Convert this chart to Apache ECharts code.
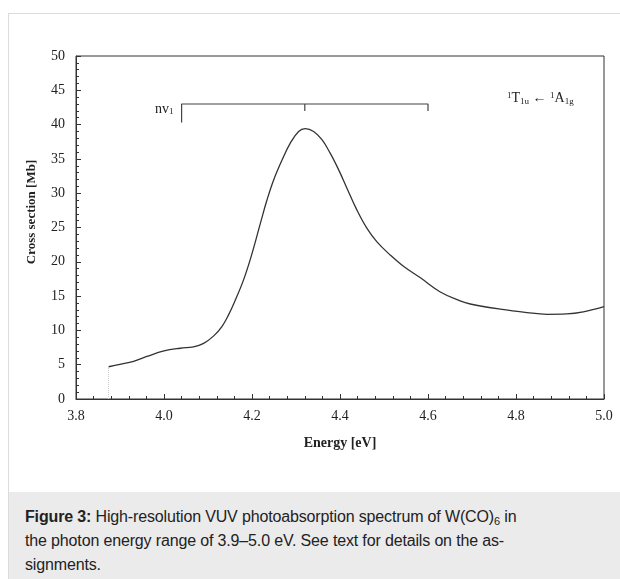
<!DOCTYPE html>
<html>
<head>
    <meta charset="utf-8">
    <script src="https://cdn.jsdelivr.net/npm/echarts@6/dist/echarts.min.js"></script>
    <style>
        body { margin: 0; background: #fff; }
        #frame { position: absolute; left: 8px; top: 13px; width: 640px; height: 600px; border: 1px solid #dcdcdc; }
        #chart { position: absolute; left: 0; top: 0; width: 620px; height: 579px; }
        #caption {
            position: absolute; left: 9px; top: 492px; width: 611px; height: 87px;
            background: #ebebeb; box-sizing: border-box; padding: 13px 0 0 16px;
            font-family: "Liberation Sans", Arial, sans-serif; font-size: 16px; line-height: 24px; color: #222;
            letter-spacing: -0.15px; white-space: nowrap;
        }
        #caption sub { font-size: 11px; line-height: 0; vertical-align: -3px; }
    </style>
</head>
<body>
    <div id="frame"></div>
    <div id="chart"></div>
    <div id="caption"><b>Figure 3:</b> High-resolution VUV photoabsorption spectrum of W(CO)<sub>6</sub> in<br>the photon energy range of 3.9–5.0 eV. See text for details on the as-<br>signments.</div>
    <script type="text/javascript">
        // spectrum: energy [eV] / cross section [Mb]
        var energy = [3.874, 3.900, 3.931, 3.961, 4.000, 4.037, 4.067, 4.090, 4.113, 4.132,
                      4.147, 4.160, 4.181, 4.200, 4.219, 4.234, 4.249, 4.268, 4.287, 4.306,
                      4.321, 4.340, 4.359, 4.378, 4.397, 4.416, 4.438, 4.461, 4.484, 4.514,
                      4.545, 4.582, 4.628, 4.673, 4.696, 4.764, 4.825, 4.870, 4.915, 4.953, 5.000];
        var cross = [4.7, 5.05, 5.5, 6.2, 7.0, 7.4, 7.6, 8.1, 9.2, 10.6,
                     12.3, 14.1, 17.4, 21.2, 25.6, 29.0, 31.9, 34.8, 37.3, 39.0,
                     39.4, 39.0, 37.8, 35.8, 33.4, 30.7, 27.6, 24.9, 22.9, 21.0,
                     19.3, 17.7, 15.6, 14.3, 13.85, 13.1, 12.6, 12.35, 12.4, 12.7, 13.45];
        // nv1 progression bracket
        var bracketE = [4.04, 4.04, 4.60, 4.60];
        var bracketY = [40.3, 43.0, 43.0, 42.0];
        var midTickE = [4.32, 4.32];
        var midTickY = [43.0, 42.0];
        var xTicks = [3.8, 4.0, 4.2, 4.4, 4.6, 4.8, 5.0];

        function pairs(xs, ys) {
            var out = [];
            for (var i = 0; i < xs.length; i++) out.push([xs[i], ys[i]]);
            return out;
        }

        var serif = '"Liberation Serif", "Times New Roman", serif';
        var myChart = echarts.init(document.getElementById('chart'));
        var option = {
            animation: false,
            grid: {
                left: 76, top: 56, right: 16, bottom: 180,
                show: true, borderColor: '#333', borderWidth: 1, backgroundColor: 'transparent'
            },
            xAxis: {
                type: 'value', min: xTicks[0], max: xTicks[xTicks.length - 1], interval: 0.2,
                name: 'Energy [eV]', nameLocation: 'middle', nameGap: 37,
                nameTextStyle: { fontFamily: serif, fontWeight: 'bold', fontSize: 14, color: '#222' },
                axisLine: { lineStyle: { color: '#333', width: 1 } },
                axisTick: { inside: true, length: 5, lineStyle: { color: '#333' } },
                minorTick: { show: true, splitNumber: 5, length: 3, lineStyle: { color: '#333' } },
                splitLine: { show: false },
                axisLabel: {
                    fontFamily: serif, fontSize: 14, color: '#222', margin: 10,
                    formatter: function (v) { return v.toFixed(1); }
                }
            },
            yAxis: {
                type: 'value', min: 0, max: 50, interval: 5,
                axisLine: { lineStyle: { color: '#333', width: 1 } },
                axisTick: { inside: true, length: 5, lineStyle: { color: '#333' } },
                minorTick: { show: true, splitNumber: 5, length: 3, lineStyle: { color: '#333' } },
                splitLine: { show: false },
                axisLabel: { fontFamily: serif, fontSize: 14, color: '#222', margin: 11 }
            },
            series: [
                {
                    type: 'line', data: pairs(energy, cross), smooth: 0.4,
                    showSymbol: false, lineStyle: { color: '#333', width: 1.3 }
                },
                {
                    type: 'line', data: [[energy[0], 0], [energy[0], cross[0]]], showSymbol: false,
                    lineStyle: { color: '#ccc', width: 1, type: 'dotted' }
                },
                {
                    type: 'line', data: pairs(bracketE, bracketY), showSymbol: false,
                    lineStyle: { color: '#444', width: 1.2 }
                },
                {
                    type: 'line', data: pairs(midTickE, midTickY), showSymbol: false,
                    lineStyle: { color: '#444', width: 1.2 }
                }
            ],
            graphic: [
                {
                    type: 'text', left: 155, top: 102,
                    style: {
                        text: 'nv{s|1}', fontFamily: serif, fontSize: 14, fill: '#222',
                        rich: { s: { fontFamily: serif, fontSize: 9, fill: '#222', padding: [6, 0, 0, 0] } }
                    }
                },
                {
                    type: 'text', left: 507, top: 91,
                    style: {
                        text: '{p|1}T{s|1u} ← {p|1}A{s|1g}', fontFamily: serif, fontSize: 14, fill: '#222',
                        rich: {
                            p: { fontFamily: serif, fontSize: 9, fill: '#222', padding: [0, 0, 6, 0] },
                            s: { fontFamily: serif, fontSize: 9, fill: '#222', padding: [6, 0, 0, 0] }
                        }
                    }
                },
                {
                    type: 'text', x: 32, y: 212, rotation: Math.PI / 2,
                    style: {
                        text: 'Cross section [Mb]', fontFamily: serif, fontWeight: 'bold', fontSize: 13,
                        fill: '#222', align: 'center', verticalAlign: 'middle'
                    }
                }
            ]
        };
        myChart.setOption(option);
    </script>
</body>
</html>
